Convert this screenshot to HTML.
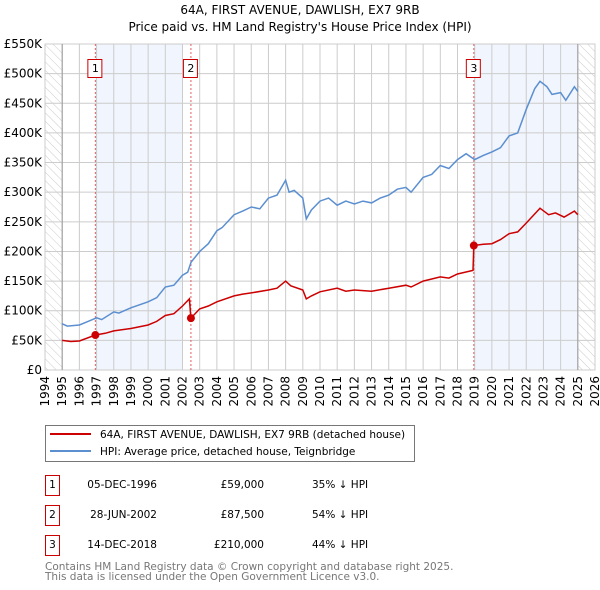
<!DOCTYPE html>
<html><head><meta charset="utf-8"><style>
body{margin:0;background:#fff}
svg{display:block;font-family:"DejaVu Sans","Liberation Sans",sans-serif}
</style></head><body>
<svg id="c" width="600" height="590" viewBox="0 0 600 590">
<defs><pattern id="hatch" width="6" height="6" patternUnits="userSpaceOnUse" patternTransform="rotate(-45)"><line x1="0" y1="0" x2="0" y2="6" stroke="#ccc" stroke-width="1"/></pattern></defs>
<text x="300" y="14" text-anchor="middle" font-size="12">64A, FIRST AVENUE, DAWLISH, EX7 9RB</text>
<text x="300" y="31" text-anchor="middle" font-size="12">Price paid vs. HM Land Registry's House Price Index (HPI)</text>
<g id="plot"></g>
<g>
<rect x="45.5" y="425.5" width="369" height="36" fill="#fff" stroke="#777"/>
<line x1="50" y1="434" x2="91" y2="434" stroke="#cc0000" stroke-width="2"/>
<text x="100" y="438" font-size="10.5">64A, FIRST AVENUE, DAWLISH, EX7 9RB (detached house)</text>
<line x1="50" y1="451" x2="91" y2="451" stroke="#5b8fd0" stroke-width="2"/>
<text x="100" y="455" font-size="10.5">HPI: Average price, detached house, Teignbridge</text>
</g>
<g font-size="10.5">
<rect x="45.5" y="475.5" width="14" height="20" fill="#fff" stroke="#cc0000"/><text x="52.5" y="488" text-anchor="middle">1</text>
<text x="157" y="488" text-anchor="end">05-DEC-1996</text><text x="264" y="488" text-anchor="end">£59,000</text><text x="312" y="488">35% ↓ HPI</text>
<rect x="45.5" y="505.5" width="14" height="20" fill="#fff" stroke="#cc0000"/><text x="52.5" y="518" text-anchor="middle">2</text>
<text x="157" y="518" text-anchor="end">28-JUN-2002</text><text x="264" y="518" text-anchor="end">£87,500</text><text x="312" y="518">54% ↓ HPI</text>
<rect x="45.5" y="535.5" width="14" height="20" fill="#fff" stroke="#cc0000"/><text x="52.5" y="548" text-anchor="middle">3</text>
<text x="157" y="548" text-anchor="end">14-DEC-2018</text><text x="264" y="548" text-anchor="end">£210,000</text><text x="312" y="548">44% ↓ HPI</text>
</g>
<text x="45" y="570" font-size="10.5" fill="#777">Contains HM Land Registry data © Crown copyright and database right 2025.</text>
<text x="45" y="580" font-size="10.5" fill="#777">This data is licensed under the Open Government Licence v3.0.</text>
</svg>
<script>
const yTicks=[0,50,100,150,200,250,300,350,400,450,500,550];
const yTickLabels=["£0","£50K","£100K","£150K","£200K","£250K","£300K","£350K","£400K","£450K","£500K","£550K"];
const xYears=[1994,1995,1996,1997,1998,1999,2000,2001,2002,2003,2004,2005,2006,2007,2008,2009,2010,2011,2012,2013,2014,2015,2016,2017,2018,2019,2020,2021,2022,2023,2024,2025,2026];
const hpiT=[1995.0,1995.3,1996,1996.5,1997,1997.3,1998,1998.3,1999,2000,2000.5,2001,2001.5,2002,2002.3,2002.5,2003,2003.5,2004,2004.3,2005,2005.5,2006,2006.5,2007,2007.5,2008.0,2008.2,2008.5,2009.0,2009.2,2009.5,2010,2010.5,2011,2011.5,2012,2012.5,2013,2013.5,2014,2014.5,2015,2015.3,2016,2016.5,2017,2017.5,2018,2018.5,2019,2019.5,2020,2020.5,2021,2021.5,2022,2022.5,2022.8,2023.2,2023.5,2024,2024.3,2024.8,2025];
const hpiV=[78,74,76,82,88,85,98,96,105,115,122,140,143,160,165,182,200,213,235,240,262,268,275,272,290,295,320,300,303,290,255,270,285,290,278,285,280,285,282,290,295,305,308,300,325,330,345,340,355,365,355,362,368,375,395,400,440,475,487,478,465,468,455,478,470];
const propT=[1995,1995.5,1996,1996.93,1997.5,1998,1999,2000,2000.5,2001,2001.5,2002,2002.4,2002.49,2003,2003.5,2004,2005,2005.5,2006,2007,2007.5,2008,2008.3,2009,2009.2,2009.5,2010,2011,2011.5,2012,2013,2014,2015,2015.3,2016,2017,2017.5,2018,2018.9,2018.95,2019.5,2020,2020.5,2021,2021.5,2022,2022.8,2023.3,2023.7,2024.2,2024.8,2025];
const propV=[50,48,49,59,62,66,70,76,82,92,95,108,120,87.5,103,108,115,125,128,130,135,138,150,142,135,120,125,132,138,133,135,133,138,143,140,150,157,155,162,168,210,212,213,220,230,233,248,273,262,265,258,268,262];
const saleT=[1996.93,2002.49,2018.95];
const saleV=[59,87.5,210];
const saleLabels=["1","2","3"];
const L=45,R=595,T=44,B=370;
const x=t=>L+(t-1994)/32*(R-L);
const y=v=>B-v/550*(B-T);
const NS="http://www.w3.org/2000/svg";
const g=document.getElementById('plot');
function mk(tag,a,parent){const e=document.createElementNS(NS,tag);for(const k in a)e.setAttribute(k,a[k]);(parent||g).appendChild(e);return e;}
let e=mk('rect',{x:x(saleT[0]),y:T,width:x(2002)-x(saleT[0]),height:B-T,fill:'#eef3fc',opacity:0.8});


e=mk('rect',{x:x(saleT[2]),y:T,width:x(2025)-x(saleT[2]),height:B-T,fill:'#eef3fc',opacity:0.8});


e=mk('rect',{x:L,y:T,width:x(1995)-L,height:B-T,fill:'url(#hatch)'});


e=mk('rect',{x:x(2025),y:T,width:R-x(2025),height:B-T,fill:'url(#hatch)'});


yTicks.forEach((v,i)=>{
 let l=mk('line',{x1:L,x2:R,y1:y(v),y2:y(v),stroke:'#ccc'});
 
 
 let t=mk('text',{x:L-3,y:y(v)+4,'text-anchor':'end','font-size':12});
 t.textContent=yTickLabels[i];
 
 
});
xYears.forEach(yr=>{
 let l=mk('line',{x1:x(yr),x2:x(yr),y1:T,y2:B,stroke:'#ccc'});
 
 
 let t=mk('text',{x:0,y:0,'text-anchor':'end','font-size':12,transform:`translate(${x(yr)+4},${B+6}) rotate(-90)`});
 t.textContent=yr;
 
 
});
e=mk('rect',{x:L,y:T,width:R-L,height:B-T,fill:'none',stroke:'#ccc'});


[1995,2025].forEach(yr=>{let l=mk('line',{x1:x(yr),x2:x(yr),y1:T,y2:B,stroke:'#999'});

});
saleT.forEach((t,i)=>{
 let l=mk('line',{x1:x(t),x2:x(t),y1:T,y2:B,stroke:'#e06060','stroke-dasharray':'2,2'});
 
 
 let r=mk('rect',{x:x(t)-7.5,y:59.5,width:14,height:18,fill:'#fff',stroke:'#cc0000'});
 
 
 let tx=mk('text',{x:x(t),y:72,'text-anchor':'middle','font-size':11});
 tx.textContent=saleLabels[i];
 
 
});
let p=mk('path',{d:hpiT.map((t,i)=>(i?'L':'M')+x(t).toFixed(1)+','+y(hpiV[i]).toFixed(1)).join(''),fill:'none',stroke:'#5b8fd0','stroke-width':1.5});


p=mk('path',{d:propT.map((t,i)=>(i?'L':'M')+x(t).toFixed(1)+','+y(propV[i]).toFixed(1)).join(''),fill:'none',stroke:'#cc0000','stroke-width':1.5});


saleT.forEach((t,i)=>{
 let c=mk('circle',{cx:x(t),cy:y(saleV[i]),r:4,fill:'#cc0000'});
 
 
});
</script>
</body></html>
